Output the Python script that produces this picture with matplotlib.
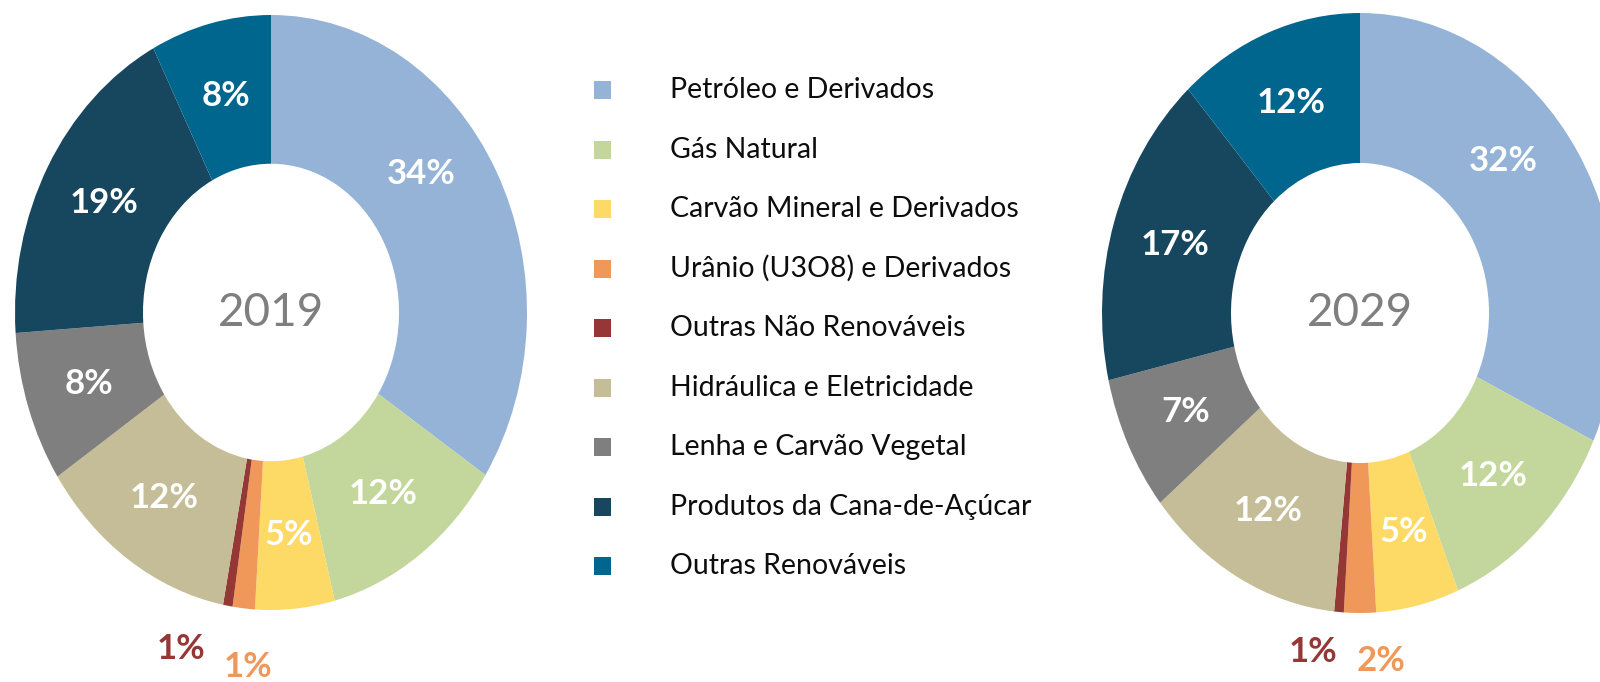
import matplotlib
matplotlib.use('Agg')
import matplotlib.pyplot as plt
from matplotlib.patches import Rectangle
import numpy as np

plt.rcParams['font.family'] = ['Lato', 'DejaVu Sans']

categories = ['Petróleo e Derivados', 'Gás Natural', 'Carvão Mineral e Derivados',
              'Urânio (U3O8) e Derivados', 'Outras Não Renováveis',
              'Hidráulica e Eletricidade', 'Lenha e Carvão Vegetal',
              'Produtos da Cana-de-Açúcar', 'Outras Renováveis']
colors = ['#95B3D7', '#C3D69B', '#FDD966', '#F0975A', '#953735',
          '#C4BD97', '#7F7F7F', '#16475E', '#00668E']

shares_2019 = [34.2, 11.8, 5.0, 1.4, 0.6, 12.7, 8.2, 18.5, 7.6]
labels_2019 = ['34%', '12%', '5%', '1%', '1%', '12%', '8%', '19%', '8%']
shares_2029 = [32.0, 11.8, 5.2, 2.0, 0.6, 12.5, 7.3, 17.0, 11.6]
labels_2029 = ['32%', '12%', '5%', '2%', '1%', '12%', '7%', '17%', '12%']

fig = plt.figure(figsize=(16, 6.82), dpi=100)
W, H = 1600, 682


def donut(rect, values, labels, year, outside):
    ax = fig.add_axes(rect)
    wedges, _ = ax.pie(values, colors=colors, startangle=90, counterclock=False,
                       radius=1, wedgeprops=dict(width=0.5, linewidth=0))
    ax.set_aspect('auto')
    ax.set_xlim(-1, 1)
    ax.set_ylim(-1, 1)
    ax.axis('off')
    for i, (w, lab) in enumerate(zip(wedges, labels)):
        if i in outside:
            x, y = outside[i]
            ax.text(x, y, lab, ha='center', va='center', fontsize=25,
                    fontweight='bold', color=colors[i], clip_on=False)
            continue
        mid = (w.theta1 + w.theta2) / 2
        if i == 0:
            mid += 10  # the big slice label sits a bit higher
        ang = np.deg2rad(mid)
        ax.text(0.75 * np.cos(ang), 0.75 * np.sin(ang), lab, ha='center',
                va='center', fontsize=25, fontweight='bold', color='white')
    ax.text(0, 0, year, ha='center', va='center', fontsize=33, color='#7F7F7F')
    return ax


# label spots for the two thin slices (below the ring)
donut([15 / W, (H - 610) / H, 512 / W, 595 / H], shares_2019, labels_2019, '2019',
      {3: (-0.09, -1.19), 4: (-0.35, -1.13)})
donut([1102 / W, (H - 613) / H, 516 / W, 600 / H], shares_2029, labels_2029, '2029',
      {3: (0.08, -1.16), 4: (-0.18, -1.13)})

# legend in the middle
for i, (name, c) in enumerate(zip(categories, colors)):
    yc = 90 + 59.5 * i
    fig.patches.append(Rectangle((594 / W, (H - yc - 9) / H), 17 / W, 18 / H,
                                 transform=fig.transFigure, facecolor=c,
                                 edgecolor='none'))
    fig.text(670 / W, (H - yc) / H, name, ha='left', va='center', fontsize=20.5,
             color='#0D0D0D')

fig.savefig('out.png', dpi=100)
